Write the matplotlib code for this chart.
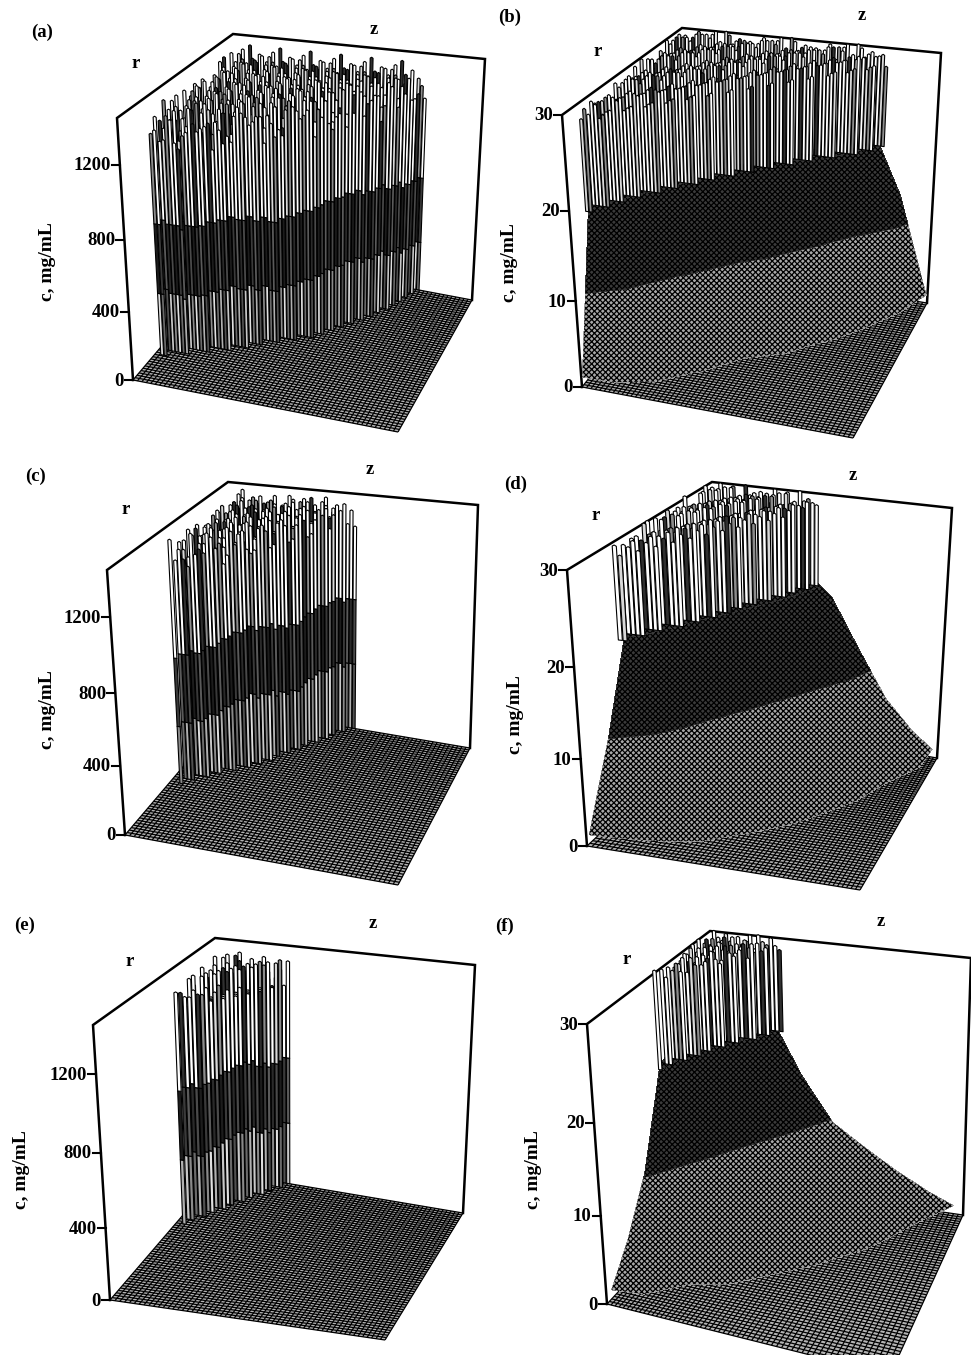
import numpy as np
import matplotlib
matplotlib.use('Agg')
import matplotlib.pyplot as plt
from matplotlib.collections import PolyCollection, LineCollection

plt.rcParams['font.family'] = ['Liberation Serif', 'DejaVu Serif']
plt.rcParams['font.weight'] = 'bold'
plt.rcParams['hatch.linewidth'] = 0.9
plt.rcParams['hatch.color'] = 'black'

a_tops = [1210, 1290, 1180, 1340, 1250, 1150, 1320, 1270, 1380, 1200, 1300, 1230, 1170, 1350, 1260,
          1310, 1190, 1280, 1360, 1220, 1140, 1330, 1240, 1290, 1200, 1370, 1250]
c_tops = [1280, 1350, 1240, 1390, 1310, 1260, 1370, 1220, 1340, 1300, 1400, 1250, 1360, 1290, 1230,
          1380, 1320, 1270, 1350, 1210, 1330, 1390, 1260]
e_tops = [1240, 1310, 1350, 1200, 1290, 1370, 1250, 1330, 1220, 1300, 1360, 1270, 1210]
b_tops = [28.6, 29.5, 28.1, 29.0, 29.9, 28.3, 29.3, 27.9, 29.7, 28.8, 28.2, 29.4, 28.9, 30.0, 28.0,
          29.1, 29.6, 28.4, 27.8]
d_tops = [29.2, 28.5, 29.9, 28.8, 28.1, 29.5, 28.6, 30.0, 28.2, 29.3, 28.9, 29.7, 28.3]
f_tops = [29.3, 28.6, 29.9, 29.0, 29.6, 28.4, 29.8, 28.8, 30.0, 29.0, 29.2]

# wobble of the dark band from the left to the right of the spikes, c in mg/mL
a_wave = [-30, -50, -70, -60, -40, -50, -70, -90, -70, -50, -30, -20, -40, -60, -90, -100]
c_wave = [-30, -50, -60, -40, -10, 10, 30, 10, -20, -30, 0, 30, 40, 20, 0]
e_wave = [10, -10, -30, -20, 10, 30, 20, -10, -30, -10, 20]

# front edge of the spiked zone on the floor, z and r as fractions of the box
a_base_z = [0.015, 0.25, 0.50, 0.68, 0.78]
a_base_r = [0.17, 0.31, 0.50, 0.75, 1.0]
c_base_z = [0.03, 0.26, 0.52]
c_base_r = [0.37, 0.60, 1.0]
e_base_z = [0.03, 0.28]
e_base_r = [0.57, 1.0]
b_base_z = [0.01, 0.125, 0.25, 0.375, 0.5, 0.625, 0.75, 0.80]
b_base_r = [0.07, 0.25, 0.40, 0.55, 0.68, 0.80, 0.90, 1.0]
d_base_z = [0.0, 0.125, 0.25, 0.375, 0.44]
d_base_r = [0.24, 0.42, 0.62, 0.85, 1.0]
f_base_z = [0.0, 0.125, 0.30]
f_base_r = [0.49, 0.74, 1.0]

# smooth part of the right hand panels, rows are r, columns are z
grid_z = [0, 0.125, 0.25, 0.375, 0.5, 0.625, 0.75, 0.875, 1]
grid_r = [0, 0.17, 0.33, 0.5, 0.67, 0.83, 1]
b_surface = [[0, 0, 0, 0, 0, 0, 0, 0, 0],
             [21, 9.5, 2.5, 0.8, 0.5, 0.3, 0.2, 0.1, 0],
             [21, 21, 10.5, 5.3, 1, 0.5, 0.3, 0.1, 0],
             [21, 21, 21, 12, 7.1, 1.6, 0.6, 0.3, 0],
             [21, 21, 21, 21, 16, 8.8, 2.0, 0.6, 0.1],
             [21, 21, 21, 21, 21, 21, 9.5, 1.6, 0.3],
             [21, 21, 21, 21, 21, 21, 21, 13, 0.5]]
d_surface = [[0, 0, 0, 0, 0, 0, 0, 0, 0],
             [10, 6, 3.5, 2, 1, 0.5, 0.2, 0.1, 0],
             [21, 15.5, 8, 5.2, 3.1, 1.3, 0.6, 0.3, 0],
             [21, 21, 14, 8.7, 5.9, 3.9, 1.3, 0.6, 0.1],
             [21, 21, 21, 13.8, 8.7, 6.4, 3.4, 1, 0.2],
             [21, 21, 21, 19.3, 12.5, 8.5, 5, 2.4, 0.5],
             [21, 21, 21, 21, 18, 12, 6.5, 3, 0.5]]
f_surface = [[0, 0, 0, 0, 0, 0, 0, 0, 0],
             [4.5, 2.9, 1, 0.5, 0.3, 0.2, 0.1, 0, 0],
             [10, 6, 3.9, 2.2, 1, 0.6, 0.3, 0.1, 0],
             [20, 10, 6.9, 4.7, 3, 1.2, 0.6, 0.2, 0],
             [21, 15, 9.8, 7.3, 5, 2.8, 1.3, 0.4, 0],
             [21, 20.5, 15, 9.7, 7.5, 5, 3, 0.9, 0.2],
             [21, 21, 21, 14.5, 9.3, 6.8, 4.4, 2.3, 0.5]]

spike_ticks = [0, 400, 800, 1200]
mesh_ticks = [0, 10, 20, 30]

# layout of each box in figure pixels: left, front, back, right floor corners, then top left, top back, top right
boxes = {
    'a': [(133, 380), (398, 432), (238, 256), (472, 300), (117, 118), (233, 34), (485, 59)],
    'b': [(582, 387), (853, 438), (682, 262), (927, 303), (562, 115), (682, 28), (941, 53)],
    'c': [(125, 835), (398, 885), (233, 708), (470, 748), (107, 570), (228, 482), (478, 505)],
    'd': [(587, 846), (860, 890), (722, 720), (937, 758), (567, 570), (712, 482), (952, 508)],
    'e': [(110, 1300), (385, 1340), (220, 1172), (463, 1213), (93, 1025), (215, 938), (475, 965)],
    'f': [(607, 1304), (890, 1375), (722, 1180), (963, 1215), (587, 1024), (710, 931), (971, 958)],
}
texts = {
    'a': [(42, 32), (374, 29), (136, 63), (48, 262)],
    'b': [(510, 17), (862, 15), (598, 52), (510, 263)],
    'c': [(35, 476), (370, 470), (126, 510), (48, 710)],
    'd': [(516, 484), (853, 475), (596, 516), (516, 715)],
    'e': [(25, 925), (373, 923), (130, 961), (22, 1170)],
    'f': [(505, 926), (881, 921), (627, 959), (533, 1170)],
}


def make_projection(box):
    left, front, back, right, top_l, top_b, top_r = [np.array(p, float) for p in box]
    src = [(0, 0), (1, 0), (0, 1), (1, 1)]
    dst = [left, front, back, right]
    rows, rhs = [], []
    for (u, v), (x, y) in zip(src, dst):
        rows.append([u, v, 1, 0, 0, 0, -u * x, -v * x])
        rows.append([0, 0, 0, u, v, 1, -u * y, -v * y])
        rhs += [x, y]
    h = np.linalg.solve(np.array(rows), np.array(rhs))
    off_l, off_b, off_r = top_l - left, top_b - back, top_r - right
    off_f = (off_l + off_r - off_b) * 1.02

    def project(z, r, t):
        z, r, t = np.asarray(z, float), np.asarray(r, float), np.asarray(t, float)
        t = t * (1 - 0.085 * (1 - t))
        w = h[6] * z + h[7] * r + 1
        x = (h[0] * z + h[1] * r + h[2]) / w
        y = (h[3] * z + h[4] * r + h[5]) / w
        ox = ((1 - z) * (1 - r) * off_l[0] + z * (1 - r) * off_f[0]
              + (1 - z) * r * off_b[0] + z * r * off_r[0])
        oy = ((1 - z) * (1 - r) * off_l[1] + z * (1 - r) * off_f[1]
              + (1 - z) * r * off_b[1] + z * r * off_r[1])
        return x + t * ox, y + t * oy
    return project


def draw_floor(ax, project):
    n = 60
    segs = []
    for s in np.linspace(0, 1, n):
        x, y = project([s, s], [0, 1], 0)
        segs.append(np.column_stack([x, y]))
        x, y = project([0, 1], [s, s], 0)
        segs.append(np.column_stack([x, y]))
    x, y = project([0, 1, 1, 0], [0, 0, 1, 1], 0)
    ax.fill(x, y, color='#b4b4b4', lw=0, zorder=1)
    ax.add_collection(LineCollection(segs, colors='black', linewidths=0.9, zorder=1.1))


def draw_walls(ax, project):
    x, y = project([0, 0, 0, 1, 1], [0, 0, 1, 1, 1], [0, 1, 1, 1, 0])
    ax.plot(x, y, color='black', lw=1.8, solid_joinstyle='miter', zorder=1.5)


def draw_spikes(ax, project, tops, base_z, base_r, cmax, levels, nz, nr, wave=None):
    dz, dr = 1 / nz, 1 / nr
    verts, faces = [], []
    lower = ['#e0e0e0', '#6a6a6a', '#b0b0b0', '#505050', '#c8c8c8', '#8a8a8a']
    middle = ['#2a2a2a', '#4a4a4a', '#1c1c1c', '#3a3a3a', '#5a5a5a']
    upper = ['white', 'white', '#d8d8d8', 'white', '#303030', 'white', 'white', '#8c8c8c', 'white']
    for j in range(nr, -1, -1):
        r = j * dr
        for i in range(nz + 1):
            z = i * dz
            if z < base_z[0] or z > base_z[-1] or r < np.interp(z, base_z, base_r) - 1e-9:
                continue
            top = tops[(i * 3 + j * 7) % len(tops)]
            w = 0.42 * dz
            edges = list(levels) + [top]
            if wave is not None:
                shift = wave[int(z / base_z[-1] * (len(wave) - 1))]
                edges = [edges[0], edges[1] + shift, edges[2] + shift, edges[3]]
            for k in range(len(edges) - 1):
                lo, hi = edges[k] / cmax, edges[k + 1] / cmax
                x, y = project([z - w, z - w, z + w, z + w], [r, r, r, r], [lo, hi, hi, lo])
                pts = list(zip(x, y))
                if k == len(edges) - 2:
                    ax_, ay_ = project(z, r, hi * 1.004)
                    pts.insert(2, (float(ax_), float(ay_)))
                    faces.append(upper[(i * 5 + j * 3) % len(upper)])
                elif k == 0 and len(edges) > 2:
                    faces.append(lower[(i + 2 * j) % len(lower)])
                else:
                    faces.append(middle[(i + j) % len(middle)])
                verts.append(pts)
    ax.add_collection(PolyCollection(verts, facecolors=faces, edgecolors='black', linewidths=0.8, zorder=3))


def draw_surface(ax, project, surface, cmax, levels):
    zz, rr = np.meshgrid(grid_z, grid_r)
    cc = np.array(surface, float)
    x, y = project(zz, rr, cc / cmax)
    ax.contourf(x, y, cc, levels=levels, colors=['#a8a8a8', '#3a3a3a', '#3a3a3a'],
                hatches=['xxxxxx', 'xxxxxx', 'xxxxxx'], zorder=2)


def draw_axis(ax, project, ticks, cmax):
    for c in ticks:
        x, y = project(0, 0, c / cmax)
        ax.plot([x - 8, x], [y, y], color='black', lw=1.5, zorder=4)
        ax.text(x - 9, y + 1, str(c), ha='right', va='center', fontsize=13.5, zorder=4)


def draw_labels(ax, name):
    pos = texts[name]
    ax.text(*pos[0], '(%s)' % name, ha='center', va='center', fontsize=13.5)
    ax.text(*pos[1], 'z', ha='center', va='center', fontsize=13.5)
    ax.text(*pos[2], 'r', ha='center', va='center', fontsize=13.5)
    ax.text(*pos[3], 'c, mg/mL', ha='center', va='center', rotation=90, fontsize=14)


fig = plt.figure(figsize=(9.71, 13.55), dpi=100, facecolor='white')
ax = fig.add_axes([0, 0, 1, 1])
ax.set_xlim(0, 971)
ax.set_ylim(1355, 0)
ax.axis('off')

spike_panels = [('a', a_tops, a_base_z, a_base_r, a_wave, 74), ('c', c_tops, c_base_z, c_base_r, c_wave, 68),
                ('e', e_tops, e_base_z, e_base_r, e_wave, 66)]
mesh_panels = [('b', b_tops, b_base_z, b_base_r, b_surface, 18.6, 9.6, 74),
               ('d', d_tops, d_base_z, d_base_r, d_surface, 19.2, 9.7, 58),
               ('f', f_tops, f_base_z, f_base_r, f_surface, 19.4, 9.6, 58)]

for name, tops, base_z, base_r, wave, nz in spike_panels:
    project = make_projection(boxes[name])
    cmax = 1440
    draw_floor(ax, project)
    draw_walls(ax, project)
    draw_spikes(ax, project, tops, base_z, base_r, cmax, [0, 400, 800], nz, 26, wave)
    draw_axis(ax, project, spike_ticks, cmax)
    draw_labels(ax, name)

for name, tops, base_z, base_r, surface, top_level, mid_level, nz in mesh_panels:
    project = make_projection(boxes[name])
    cmax = 30
    draw_floor(ax, project)
    draw_walls(ax, project)
    draw_surface(ax, project, surface, cmax, [1.0, mid_level, top_level, 25])
    draw_spikes(ax, project, tops, base_z, base_r, cmax, [top_level], nz, 18)
    draw_axis(ax, project, mesh_ticks, cmax)
    draw_labels(ax, name)

fig.savefig('out.png', dpi=100, facecolor='white')
